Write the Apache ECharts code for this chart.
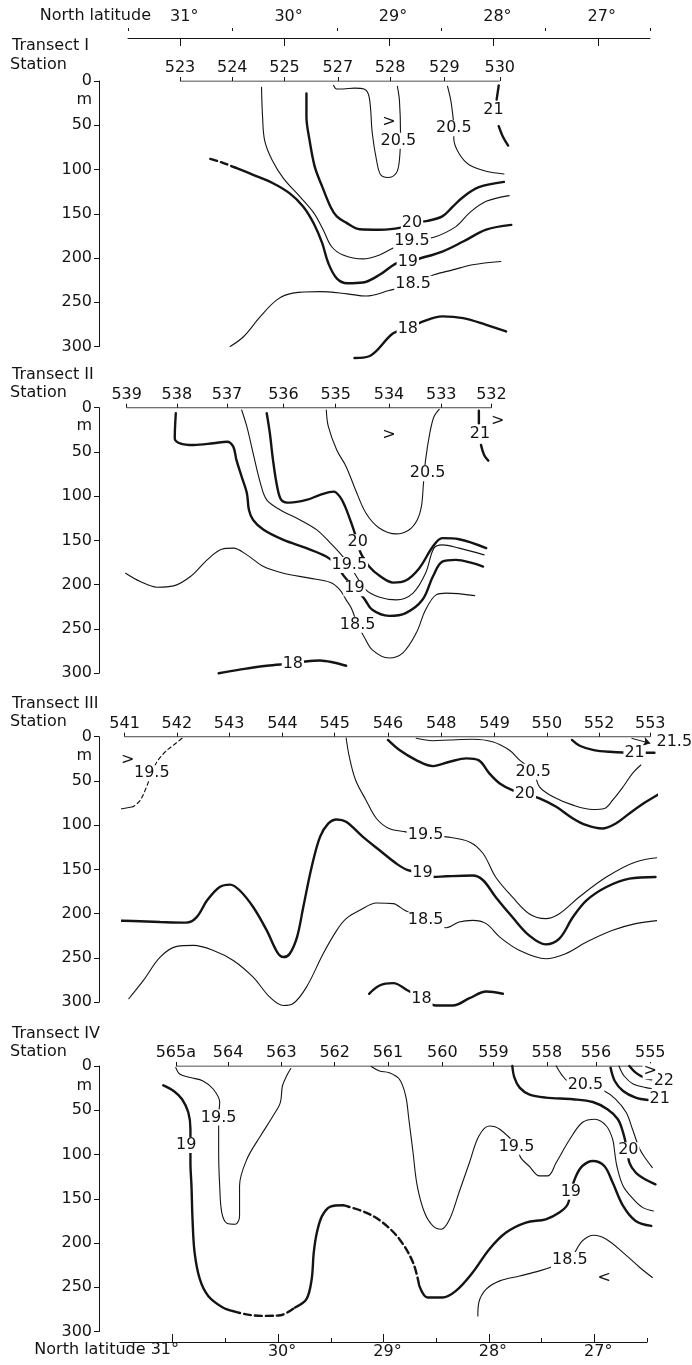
<!DOCTYPE html>
<html>
<head>
<meta charset="utf-8">
<script src="https://cdn.jsdelivr.net/npm/echarts@6/dist/echarts.min.js"></script>
<style>
  html, body { margin: 0; padding: 0; background: #fff; }
  #chart { width: 692px; height: 1365px; }
</style>
</head>
<body>
<div id="chart"></div>
<script>
// Temperature sections (°C) along four transects: latitude (°N) vs depth (m)

const latMajor = [31, 30, 29, 28, 27];
const latMinor = [31.5, 30.5, 29.5, 28.5, 27.5, 26.5];
const bottomLatLabels = [30, 29, 28, 27];
const bottomLatMinor = [30.5, 29.5, 28.5, 27.5, 26.5];

// ---------- Transect I ----------
const stationsI = ['523', '524', '525', '527', '528', '529', '530'];
const stationLatI = [31.0, 30.5, 30.0, 29.49, 28.99, 28.47, 27.94];

const I_205a = [[29.53,5],[29.50,9],[29.44,9],[29.33,8],[29.24,9],[29.19,18],[29.16,59],[29.12,89],[29.08,106],[29.01,109],[28.93,104],[28.90,89],[28.89,59],[28.90,22],[28.92,6]];
const I_205b = [[28.44,6],[28.41,21],[28.39,38],[28.38,53],[28.38,65],[28.33,82],[28.23,95],[28.07,102],[27.90,105]];
const I_21a = [[27.95,5],[27.97,21]];
const I_21b = [[27.95,51],[27.91,63],[27.86,73]];
const I_20 = [[29.79,14],[29.79,40],[29.76,67],[29.71,97],[29.64,119],[29.56,142],[29.50,153],[29.41,160],[29.28,167.5],[29.09,168],[28.90,166],[28.78,160],[28.63,158],[28.49,153],[28.39,142],[28.29,131],[28.14,120],[27.90,114]];
const I_195 = [[30.22,7],[30.21,40],[30.19,67],[30.12,89],[30.01,110],[29.85,131],[29.72,149],[29.63,168],[29.55,187],[29.44,196.5],[29.25,201],[29.09,196.5],[28.93,187],[28.78,180.5],[28.57,176.5],[28.36,164.5],[28.23,149],[28.07,136],[27.85,129.5]];
const I_19dash = [[30.71,88],[30.60,92],[30.47,98]];
const I_19 = [[30.47,98],[30.30,106],[30.11,115.5],[29.95,127],[29.82,142],[29.72,161],[29.64,183],[29.58,206],[29.50,223],[29.40,228.5],[29.25,227.7],[29.09,219],[28.93,206],[28.82,204],[28.69,200],[28.49,192.7],[28.29,181.4],[28.07,168],[27.83,162.6]];
const I_185 = [[30.52,300],[30.39,288.7],[30.23,266],[30.07,247],[29.92,239.7],[29.66,238],[29.40,240.5],[29.22,243],[29.00,236.8],[28.77,229],[28.57,219],[28.39,213.4],[28.20,207.7],[27.93,204]];
const I_18 = [[29.33,313],[29.19,311],[28.96,285],[28.82,280],[28.68,272],[28.49,266],[28.29,268],[28.07,275.5],[27.88,283]];
const labelsI = [[28.91,67.6,'20.5'],[29.0,46,'>'],[28.38,53.4,'20.5'],[28.0,32.7,'21'],[28.78,160,'20'],[28.78,180.5,'19.5'],[28.82,204,'19'],[28.77,229,'18.5'],[28.82,280,'18']];

// ---------- Transect II ----------
const stationsII = ['539', '538', '537', '536', '535', '534', '533', '532'];
const stationLatII = [31.51, 31.03, 30.55, 30.01, 29.51, 29.0, 28.50, 28.02];

const II_21a = [[28.14,3.4],[28.14,17.6]];
const II_21b = [[28.12,42],[28.09,53.4],[28.05,59.8]];
const II_205 = [[29.60,2.6],[29.58,21.5],[29.50,47.8],[29.41,66.6],[29.32,92.9],[29.22,119.2],[29.09,136.2],[28.93,142.6],[28.81,138.1],[28.73,126.8],[28.69,111.8],[28.67,85.4],[28.65,59],[28.61,28.9],[28.57,10.2],[28.52,1.8]];
const II_20 = [[30.17,6.3],[30.14,28.9],[30.11,59],[30.07,89.2],[30.03,104.2],[29.95,107.3],[29.79,104.2],[29.66,98.6],[29.53,94.8],[29.47,100.5],[29.42,111.8],[29.36,130.5],[29.30,152],[29.27,164.4],[29.19,179.5],[29.09,190],[28.96,197.6],[28.84,195.3],[28.71,181.3],[28.58,156.9],[28.49,147.4],[28.33,148.6],[28.07,158.7]];
const II_195 = [[30.41,2.6],[30.36,21.5],[30.30,51.5],[30.23,85.4],[30.17,104.2],[30.04,115.5],[29.85,126.8],[29.69,138.1],[29.56,153.1],[29.47,164.4],[29.38,177.6],[29.22,205.8],[29.09,214.1],[28.93,217.1],[28.77,209.5],[28.65,187],[28.57,158.7],[28.49,155],[28.33,158.7],[28.09,166.3]];
const II_19 = [[31.04,6.3],[31.05,34.4],[31.0,40.2],[30.87,42.1],[30.68,40.2],[30.55,38.4],[30.49,44],[30.46,59],[30.41,77.9],[30.36,96.6],[30.34,115.5],[30.30,126.8],[30.20,138],[30.01,149.4],[29.79,158.7],[29.60,168.2],[29.50,177.6],[29.44,188.9],[29.33,204],[29.24,215.2],[29.16,228.4],[29.0,235.2],[28.84,232.1],[28.68,217.1],[28.58,190.8],[28.49,173.9],[28.36,172],[28.20,175.7],[28.10,179.5]];
const II_185 = [[31.52,187],[31.38,196.4],[31.22,202.8],[31.06,201.3],[30.90,190.8],[30.74,171.9],[30.60,159.9],[30.49,158.7],[30.36,166.3],[30.20,179.5],[30.01,187],[29.76,192.6],[29.56,197.6],[29.47,205.8],[29.41,217.1],[29.36,226.5],[29.30,245.3],[29.24,258.5],[29.16,273.6],[29.0,282.9],[28.87,277.3],[28.74,254.7],[28.65,228.4],[28.55,211.5],[28.45,209.5],[28.18,212.3]];
const II_18 = [[30.63,300],[30.43,296],[30.17,291.6],[29.92,289],[29.80,286.8],[29.66,285.6],[29.53,287.9],[29.41,291.6]];
const labelsII = [[29.0,31,'>'],[28.63,74,'20.5'],[27.96,14.8,'>'],[28.13,30,'21'],[29.30,152,'20'],[29.38,177.6,'19.5'],[29.33,204,'19'],[29.30,245.3,'18.5'],[29.92,289,'18']];

// ---------- Transect III ----------
const stationsIII = ['541', '542', '543', '544', '545', '546', '548', '549', '550', '552', '553'];
const stationLatIII = [31.53, 31.03, 30.53, 30.02, 29.52, 29.01, 28.50, 27.99, 27.49, 26.99, 26.50];

const III_195dash = [[30.98,1.8],[31.06,9.4],[31.14,17],[31.22,28.3],[31.27,41],[31.32,56.6],[31.38,71.7],[31.45,79.2]];
const III_195tail = [[31.45,79.2],[31.54,81.1],[31.70,83]];
const III_19 = [[31.70,207.5],[31.45,208.3],[31.19,209.4],[30.94,210.1],[30.84,203.8],[30.74,184.9],[30.62,169.8],[30.52,167.1],[30.43,173.5],[30.30,192.4],[30.17,218.8],[30.07,243.4],[30.01,249],[29.95,245.2],[29.88,226.4],[29.82,192.4],[29.74,147.2],[29.66,113.2],[29.58,98],[29.50,93.5],[29.41,96.2],[29.25,113.2],[29.09,128.3],[28.93,143.3],[28.82,150.9],[28.68,154],[28.58,158.5],[28.45,157.7],[28.20,156.9],[28.10,162.2],[27.98,181.1],[27.82,203.8],[27.66,224.5],[27.50,234.7],[27.37,228.2],[27.24,203.8],[27.11,184.9],[26.92,169.8],[26.70,160.3],[26.45,158.5]];
const III_185 = [[31.49,296.1],[31.35,275.4],[31.19,249],[31.03,236.9],[30.87,235.8],[30.68,241.5],[30.49,252.8],[30.30,271.7],[30.14,294.3],[30.01,303.7],[29.92,301.8],[29.79,283],[29.63,245.2],[29.50,218.8],[29.41,205.6],[29.28,196.2],[29.12,187.9],[28.96,188.6],[28.85,196.2],[28.65,207.5],[28.45,215.8],[28.33,209.4],[28.20,207.5],[28.07,211.2],[27.94,226.4],[27.75,241.5],[27.50,250.9],[27.31,245.2],[27.11,232.1],[26.86,218.8],[26.64,211.2],[26.41,207.5]];
const III_195 = [[29.41,1.5],[29.38,22.6],[29.32,49],[29.22,71.7],[29.12,92.4],[29.0,103.7],[28.84,107.5],[28.65,111.3],[28.45,113.2],[28.23,118.9],[28.10,132],[27.98,158.5],[27.82,181.1],[27.66,200],[27.50,205.6],[27.37,200],[27.18,181.1],[26.92,158.5],[26.64,141.5],[26.35,135.8]];
const III_20 = [[29.01,3.7],[28.90,15.1],[28.74,26.4],[28.58,33.2],[28.42,28.3],[28.26,24.5],[28.14,26.7],[28.04,41.4],[27.94,52.8],[27.82,60.3],[27.70,64.5],[27.56,69.7],[27.40,79.2],[27.24,92.4],[27.11,100],[26.96,103.7],[26.83,98],[26.70,86.7],[26.54,73.6],[26.35,60.3]];
const III_205 = [[28.74,1.8],[28.58,4.5],[28.42,3.7],[28.20,2.9],[28.01,5.7],[27.85,15.1],[27.75,26.4],[27.62,39.6],[27.56,56.6],[27.43,67.9],[27.24,77.3],[27.05,82.2],[26.94,81.1],[26.86,71.7],[26.76,56.6],[26.67,41.4],[26.59,32]];
const III_21 = [[27.25,3.7],[27.17,10.5],[27.04,15.1],[26.89,17],[26.65,18.1],[26.46,18.1]];
const III_18 = [[29.19,290.5],[29.09,281.1],[28.96,278.5],[28.82,286.7],[28.69,296.1],[28.55,303.7],[28.39,303.7],[28.23,295.5],[28.07,287.9],[27.91,290.5]];
const arrowIII = [[26.68,1.8],[26.50,7.5]];
const labelsIII = [[31.50,26.4,'>'],[31.27,41.4,'19.5'],[27.62,39.6,'20.5'],[27.70,64.1,'20'],[26.65,18.8,'21'],[26.27,5.7,'21.5'],[28.65,111.3,'19.5'],[28.68,154,'19'],[28.65,207.5,'18.5'],[28.69,296.1,'18']];

// ---------- Transect IV ----------
const stationsIV = ['565a', '564', '563', '562', '561', '560', '559', '558', '556', '555'];
const stationLatIV = [31.04, 30.54, 30.03, 29.52, 29.01, 28.49, 28.0, 27.49, 27.02, 26.50];

const IV_19a = [[31.16,21.8],[31.06,28.2],[30.98,37.6],[30.92,52.6],[30.90,71.5],[30.90,109.1],[30.89,135.5],[30.88,173.2],[30.86,210.8],[30.81,240.9],[30.73,259.8],[30.59,272.9],[30.49,277]];
const IV_19dashA = [[30.49,277],[30.35,281],[30.20,282.4],[30.04,281.6],[29.90,273]];
const IV_19b = [[29.90,273],[29.79,263.5],[29.74,240.9],[29.72,210.8],[29.69,188.2],[29.64,169.4],[29.56,158.8],[29.44,157.3]];
const IV_19dashB = [[29.44,157.3],[29.22,165.6],[29.06,176.9],[28.90,195.7],[28.77,222.1],[28.71,248.5]];
const IV_19c = [[28.71,248.5],[28.63,261.6],[28.49,261.6],[28.36,254.1],[28.20,233.4],[28.04,207],[27.88,188.2],[27.69,176.9],[27.50,173.2],[27.37,165.6],[27.29,156.2],[27.26,141.2],[27.21,124.2],[27.15,113],[27.05,107.3],[26.94,113],[26.86,131.7],[26.76,158.1],[26.64,175.1],[26.49,180.7]];
const IV_195a = [[31.04,1.8],[31.0,9.4],[30.90,13.1],[30.78,16.9],[30.68,26.3],[30.62,41.3],[30.63,56.5],[30.63,71.5],[30.63,97.8],[30.62,135.5],[30.60,165.6],[30.55,177.7],[30.47,178.8],[30.43,169.4],[30.43,135.5],[30.36,105.4],[30.23,79.1],[30.11,56.5],[30.04,41.3],[30.02,22.6],[29.98,11.3],[29.94,2.9]];
const IV_195b = [[29.17,0.5],[29.09,5.6],[29.0,7.5],[28.90,15],[28.84,33.9],[28.81,60.2],[28.77,97.8],[28.73,135.5],[28.66,165.6],[28.58,180.7],[28.50,184.5],[28.42,173.2],[28.33,143],[28.23,109.1],[28.14,79.1],[28.04,67.8],[27.94,71.5],[27.78,90.4],[27.74,103.5],[27.66,113],[27.56,124.2],[27.48,124.2],[27.40,109.1],[27.27,82.8],[27.15,63.9],[27.03,60.2],[26.92,67.8],[26.86,82.8],[26.84,97.8],[26.82,113],[26.76,135.5],[26.66,150.6],[26.57,160],[26.47,163.8]];
const IV_20 = [[27.82,0],[27.80,13.1],[27.75,24.4],[27.66,32],[27.50,35.7],[27.24,37.6],[27.05,40.7],[26.91,48.9],[26.81,60.2],[26.76,75.2],[26.72,95.2],[26.70,109.1],[26.64,120.4],[26.55,128],[26.45,133.7]];
const IV_205 = [[27.40,0],[27.35,9.4],[27.29,16.9],[27.12,21.6],[26.94,28.2],[26.83,37.6],[26.73,52.6],[26.67,71.5],[26.60,94.1],[26.54,105.4],[26.48,114.8]];
const IV_21 = [[26.88,1.8],[26.84,16.9],[26.76,28.2],[26.64,35.7],[26.52,38.4]];
const IV_215 = [[26.80,0],[26.75,11.3],[26.66,20.7],[26.54,24.4],[26.49,25.5]];
const IV_22 = [[26.70,0],[26.64,7.5],[26.56,13.1],[26.49,15]];
const IV_185 = [[28.15,282.4],[28.14,267.2],[28.07,252.2],[27.94,242.8],[27.75,237.2],[27.56,231.5],[27.40,225.1],[27.27,218.3],[27.15,197.7],[27.04,191.2],[26.92,195.7],[26.76,210.8],[26.60,227.7],[26.48,239]];
const labelsIV = [[30.63,58.3,'19.5'],[30.94,89.3,'19'],[27.12,21.6,'20.5'],[26.71,95.2,'20'],[27.78,91.3,'19.5'],[27.26,142,'19'],[27.27,219.3,'18.5'],[26.94,239,'<'],[26.41,37.6,'21'],[26.37,16.9,'22'],[26.50,6,'>']];

// ---------- styling ----------
const FONT = 'DejaVu Sans';
const INK = '#141414';
const THICK = 2.4;
const THIN = 1.1;

const panels = [
  { title: 'Transect I', top: 81, names: stationsI, lats: stationLatI, labels: labelsI,
    lines: [
      { d: I_205a, w: THIN }, { d: I_205b, w: THIN }, { d: I_21a, w: THICK }, { d: I_21b, w: THICK },
      { d: I_20, w: THICK }, { d: I_195, w: THIN }, { d: I_19dash, w: THICK, dash: true },
      { d: I_19, w: THICK }, { d: I_185, w: THIN }, { d: I_18, w: THICK }
    ] },
  { title: 'Transect II', top: 407.7, names: stationsII, lats: stationLatII, labels: labelsII,
    lines: [
      { d: II_21a, w: THICK }, { d: II_21b, w: THICK }, { d: II_205, w: THIN }, { d: II_20, w: THICK },
      { d: II_195, w: THIN }, { d: II_19, w: THICK }, { d: II_185, w: THIN }, { d: II_18, w: THICK }
    ] },
  { title: 'Transect III', top: 736.7, names: stationsIII, lats: stationLatIII, labels: labelsIII,
    lines: [
      { d: III_195dash, w: THIN, dash: true }, { d: III_195tail, w: THIN }, { d: III_19, w: THICK },
      { d: III_185, w: THIN }, { d: III_195, w: THIN }, { d: III_20, w: THICK }, { d: III_205, w: THIN },
      { d: III_21, w: THICK }, { d: III_18, w: THICK }
    ],
    arrow: arrowIII },
  { title: 'Transect IV', top: 1066, names: stationsIV, lats: stationLatIV, labels: labelsIV,
    lines: [
      { d: IV_19a, w: THICK }, { d: IV_19dashA, w: THICK, dash: true }, { d: IV_19b, w: THICK },
      { d: IV_19dashB, w: THICK, dash: true }, { d: IV_19c, w: THICK }, { d: IV_195a, w: THIN },
      { d: IV_195b, w: THIN }, { d: IV_20, w: THICK }, { d: IV_205, w: THIN }, { d: IV_21, w: THICK },
      { d: IV_215, w: THIN }, { d: IV_22, w: THICK }, { d: IV_185, w: THIN }
    ] }
];

// panels span 31.55°N .. 26.45°N so that edge stations stay inside the axis range
const LAT_MIN = 26.45, LAT_MAX = 31.55;
const PLOT_LEFT = 122.5, PLOT_WIDTH = 533, PLOT_HEIGHT = 265.5;
const DEPTH_AXIS_X = 99;
const textBase = { fontFamily: FONT, fontSize: 16, color: INK };

function nearestIndex(arr, v) {
  let best = 0;
  arr.forEach((a, i) => { if (Math.abs(a - v) < Math.abs(arr[best] - v)) best = i; });
  return best;
}

const grid = [], xAxis = [], yAxis = [], series = [], graphic = [];

panels.forEach((p, i) => {
  grid.push({ left: PLOT_LEFT, width: PLOT_WIDTH, top: p.top, height: PLOT_HEIGHT });

  // station axis along the sea surface
  xAxis.push({
    gridIndex: i, type: 'value', min: LAT_MIN, max: LAT_MAX, inverse: true, position: 'top',
    axisLine: { show: false }, splitLine: { show: false },
    axisTick: { show: true, inside: false, length: 4, customValues: p.lats, lineStyle: { color: INK, width: 1 } },
    axisLabel: { show: true, customValues: p.lats, margin: 5, ...textBase,
      formatter: v => p.names[nearestIndex(p.lats, v)] }
  });

  yAxis.push({
    gridIndex: i, type: 'value', min: 0, max: 300, interval: 50, inverse: true,
    offset: PLOT_LEFT - DEPTH_AXIS_X,
    axisLine: { show: true, lineStyle: { color: INK, width: 1 } },
    axisTick: { show: true, length: 5, lineStyle: { color: INK, width: 1 } },
    axisLabel: { margin: 7, ...textBase },
    splitLine: { show: false }
  });

  const surface = {
    type: 'line', xAxisIndex: i, yAxisIndex: i, silent: true, symbol: 'none', z: 3,
    data: [[p.lats[0], 0], [p.lats[p.lats.length - 1], 0]],
    lineStyle: { color: INK, width: 1 }
  };
  if (p.arrow) {
    surface.markLine = {
      silent: true, symbol: ['none', 'arrow'], symbolSize: 7, label: { show: false },
      lineStyle: { color: INK, width: 1, type: 'solid' },
      data: [[{ coord: p.arrow[0] }, { coord: p.arrow[1] }]]
    };
  }
  series.push(surface);

  p.lines.forEach(l => {
    series.push({
      type: 'line', xAxisIndex: i, yAxisIndex: i, data: l.d, symbol: 'none', showSymbol: false,
      smooth: 0.35, clip: false, silent: true, z: 2,
      lineStyle: { color: INK, width: l.w, cap: 'round',
        type: l.dash ? (l.w === THICK ? [7, 4] : [4, 3]) : 'solid' }
    });
  });

  // isotherm values, drawn over a white patch that opens a gap in the line
  series.push({
    type: 'scatter', xAxisIndex: i, yAxisIndex: i, clip: false, silent: true, z: 5,
    symbol: 'circle', symbolSize: 0.5, itemStyle: { color: '#fff', opacity: 1 },
    data: p.labels.map(l => ({ value: [l[0], l[1]], name: l[2] })),
    label: { show: true, position: 'inside', formatter: q => q.name, ...textBase, opacity: 1,
      textBorderWidth: 0, textBorderColor: 'transparent', textShadowBlur: 0,
      lineHeight: 16, backgroundColor: '#fff', padding: [0, 1] }
  });
});

// latitude scale above Transect I (own grid, 31.5 .. 26.5)
grid.push({ left: 128, width: 522, top: 28, height: 10 });
yAxis.push({ gridIndex: 4, type: 'value', min: 0, max: 1, show: false });
xAxis.push({
  gridIndex: 4, type: 'value', min: 26.5, max: 31.5, inverse: true, position: 'top',
  axisLine: { show: true, lineStyle: { color: INK, width: 1 } }, splitLine: { show: false },
  axisTick: { show: true, inside: true, length: 8, customValues: latMajor, lineStyle: { color: INK } },
  axisLabel: { customValues: latMajor, margin: 3, padding: [0, 0, 0, 8], ...textBase, formatter: v => v + '°' }
});
xAxis.push({
  gridIndex: 4, type: 'value', min: 26.5, max: 31.5, inverse: true, position: 'top',
  axisLine: { show: false }, splitLine: { show: false }, axisLabel: { show: false },
  axisTick: { show: true, inside: true, length: 3, customValues: latMinor, lineStyle: { color: INK } }
});

// latitude scale below Transect IV
grid.push({ left: 120, width: 527, top: 1300, height: 42 });
yAxis.push({ gridIndex: 5, type: 'value', min: 0, max: 1, show: false });
xAxis.push({
  gridIndex: 5, type: 'value', min: 26.5, max: 31.5, inverse: true, position: 'bottom',
  axisLine: { show: true, lineStyle: { color: INK, width: 1 } }, splitLine: { show: false },
  axisTick: { show: true, inside: true, length: 8, customValues: latMajor, lineStyle: { color: INK } },
  axisLabel: { customValues: bottomLatLabels, margin: 2, padding: [0, 0, 0, 8], ...textBase, formatter: v => v + '°' }
});
xAxis.push({
  gridIndex: 5, type: 'value', min: 26.5, max: 31.5, inverse: true, position: 'bottom',
  axisLine: { show: false }, splitLine: { show: false }, axisLabel: { show: false },
  axisTick: { show: true, inside: true, length: 4, customValues: bottomLatMinor, lineStyle: { color: INK } }
});

// titles and unit marks
const titleY = [46, 375, 703.5, 1033.5];
const stationY = [64.5, 392.5, 721.5, 1051.5];
const unitY = [100, 426, 756, 1086];
function txt(text, x, y, align) {
  return { type: 'text', x, y, silent: true,
    style: { text, fontFamily: FONT, fontSize: 16, fill: INK, align, verticalAlign: 'middle' } };
}
panels.forEach((p, i) => {
  graphic.push(txt(p.title, 12, titleY[i], 'left'));
  graphic.push(txt('Station', 10, stationY[i], 'left'));
  graphic.push(txt('m', 92, unitY[i], 'right'));
});
graphic.push(txt('North latitude', 151, 16, 'right'));
graphic.push(txt('North latitude 31°', 179, 1350, 'right'));

const chart = echarts.init(document.getElementById('chart'), null, { renderer: 'canvas' });
chart.setOption({
  backgroundColor: '#fff',
  animation: false,
  grid, xAxis, yAxis, series, graphic
});
</script>
</body>
</html>
